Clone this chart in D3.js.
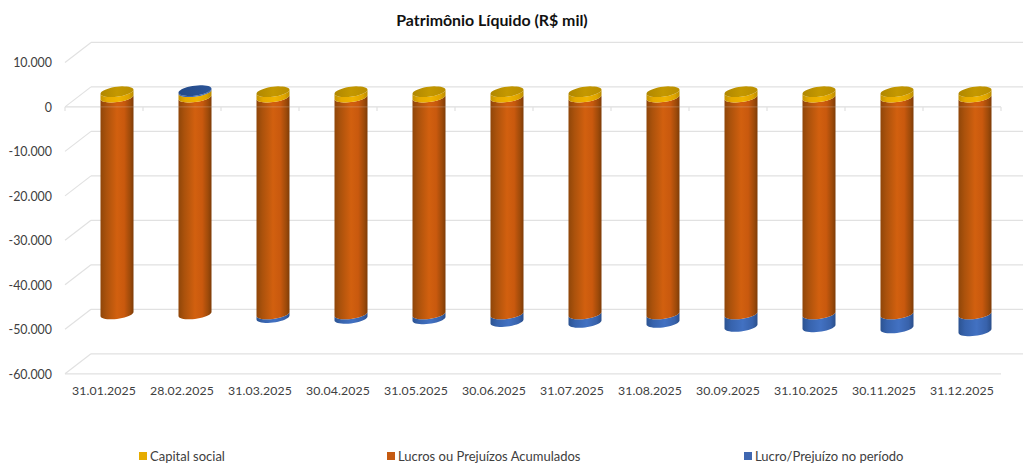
<!DOCTYPE html>
<html lang="pt-BR"><head><meta charset="utf-8">
<script src="https://cdnjs.cloudflare.com/ajax/libs/d3/7.8.5/d3.min.js"></script>
<style>html,body{margin:0;padding:0;background:#fff}svg{display:block}text{font-family:Lato,"Open Sans",sans-serif;fill:#404040}</style>
</head><body><svg id="c" width="1023" height="463"></svg>
<script>
const categories=["31.01.2025","28.02.2025","31.03.2025","30.04.2025","31.05.2025","30.06.2025","31.07.2025","31.08.2025","30.09.2025","31.10.2025","30.11.2025","31.12.2025"];
const capitalSocial=[1200,1200,1200,1200,1200,1200,1200,1200,1200,1200,1200,1200];
const lucrosAcumulados=[-48750,-48750,-48750,-48750,-48750,-48750,-48750,-48750,-48750,-48750,-48750,-48750];
const lucroPeriodo=[0,250,-800,-1000,-1100,-1700,-1900,-1900,-2800,-2900,-3150,-3800];
const yTicks=[10000,0,-10000,-20000,-30000,-40000,-50000,-60000];
const seriesNames=["Capital social","Lucros ou Prejuízos Acumulados","Lucro/Prejuízo no período"];
const seriesKeys=["capital","lucros","periodo"];

const W=1023,H=463,dx=26,dy=20,midX=13,midY=9.8;
const svg=d3.select("#c");
const x=d3.scaleBand().domain(categories).range([65,1001]);
const y=d3.scaleLinear().domain([-60000,10000]).range([373.8,62.4]);
const loc=d3.formatLocale({decimal:",",thousands:".",grouping:[3],currency:["R$",""],minus:"-"});
const fmt=loc.format(",d");
const rows=categories.map((c,i)=>({c,capital:capitalSocial[i],lucros:lucrosAcumulados[i],periodo:lucroPeriodo[i]}));
const stacked=d3.stack().keys(seriesKeys).offset(d3.stackOffsetDiverging)(rows);
const defs=svg.append("defs");
function grad(id,stops){const g=defs.append("linearGradient").attr("id",id).attr("x1",0).attr("x2",1).attr("y1",0).attr("y2",0);
 stops.forEach(s=>g.append("stop").attr("offset",s[0]).attr("stop-color",s[1]));}
grad("gY",[[0,"#c39200"],[.2,"#e6aa00"],[.55,"#f0b400"],[.85,"#dfa500"],[1,"#b88a00"]]);
grad("gO",[[0,"#8f4609"],[.18,"#ab520c"],[.5,"#d2600f"],[.72,"#c9590e"],[.9,"#9d4a0a"],[1,"#7e3c07"]]);
grad("gB",[[0,"#2c5391"],[.2,"#3763ad"],[.55,"#4271c2"],[.85,"#3862ab"],[1,"#2b4f8b"]]);
grad("tY",[[0,"#b08700"],[.5,"#c49800"],[1,"#ba8e00"]]);
grad("tB",[[0,"#244a88"],[1,"#2c5598"]]);
const sideFill={capital:"url(#gY)",lucros:"url(#gO)",periodo:"url(#gB)"};
const topFill={capital:"url(#tY)",periodo:"url(#tB)"};
const legendColor={capital:"#e6ac00",lucros:"#c55a11",periodo:"#3f67b1"};

const grid=svg.append("g").attr("fill","none").attr("stroke","#e1e1e1").attr("stroke-width",1.2);
yTicks.forEach(t=>{
  const yy=y(t);
  grid.append("line").attr("x1",65).attr("x2",65+dx).attr("y1",yy).attr("y2",yy-dy);
  grid.append("line").attr("x1",65+dx).attr("x2",1001+dx).attr("y1",yy-dy).attr("y2",yy-dy);
});
[0,-60000].forEach(t=>grid.append("line").attr("x1",65).attr("x2",1001).attr("y1",y(t)).attr("y2",y(t)));
x.domain().concat([null]).forEach((c,i)=>{const px=65+i*x.step();
  grid.append("line").attr("x1",px).attr("x2",px).attr("y1",y(0)).attr("y2",y(0)+4);});

const rx=16.5,ry=5,sh=2;
function pt(cx,cy,a){return [cx+rx*Math.cos(a),cy+ry*Math.sin(a)-sh*Math.cos(a)];}
function ellipsePath(cx,cy){const l=d3.line();const p=d3.range(0,41).map(i=>pt(cx,cy,i/40*2*Math.PI));return l(p)+"Z";}
function sidePath(cx,yTop,yBot){
  const p=[];
  d3.range(0,21).forEach(i=>p.push(pt(cx,yTop,Math.PI-i/20*Math.PI)));
  d3.range(0,21).forEach(i=>p.push(pt(cx,yBot,i/20*Math.PI)));
  return d3.line()(p)+"Z";
}
const bars=svg.append("g");
categories.forEach((c,i)=>{
  const cx=x(c)+x.bandwidth()/2+midX;
  const g=bars.append("g");
  const segs=stacked.map(s=>({key:s.key,v0:Math.min(s[i][0],s[i][1]),v1:Math.max(s[i][0],s[i][1])})).filter(s=>s.v1>s.v0);
  segs.sort((a,b)=>a.v0-b.v0);
  segs.forEach(s=>{
    g.append("path").attr("d",sidePath(cx,y(s.v1)-midY,y(s.v0)-midY)).attr("fill",sideFill[s.key]);
  });
  const top=segs[segs.length-1];
  g.append("path").attr("d",ellipsePath(cx,y(top.v1)-midY)).attr("fill",topFill[top.key]);
});
svg.append("line").attr("x1",65).attr("x2",1001).attr("y1",y(0)).attr("y2",y(0)).attr("stroke","#e1e1e1").attr("stroke-opacity",.25);

const yAxis=d3.axisLeft(y).tickValues(yTicks).tickSize(0).tickPadding(0).tickFormat(fmt);
const ya=svg.append("g").attr("transform","translate(52,0)").call(yAxis);
ya.select(".domain").remove();
ya.selectAll("text").attr("font-size",12.4).attr("dy","0.35em").style("font-family","Lato").style("fill","#404040");
const xAxis=d3.axisBottom(x).tickSize(0).tickPadding(0);
const xa=svg.append("g").attr("transform","translate(0,386)").call(xAxis);
xa.select(".domain").remove();
xa.selectAll("text").attr("font-size",12.3).attr("dy","0.71em").style("font-family","Lato").style("fill","#404040").attr("letter-spacing",.1);

svg.append("text").attr("x",492).attr("y",25.5).attr("text-anchor","middle").attr("font-weight",700).attr("font-size",15.9).style("fill","#111").text("Patrimônio Líquido (R$ mil)");

const legendX=[139,387,744];
seriesNames.forEach((n,i)=>{
  svg.append("rect").attr("x",legendX[i]).attr("y",452).attr("width",8).attr("height",8).attr("fill",legendColor[seriesKeys[i]]);
  svg.append("text").attr("x",legendX[i]+11).attr("y",460.5).attr("font-size",13).text(n);
});
</script></body></html>
